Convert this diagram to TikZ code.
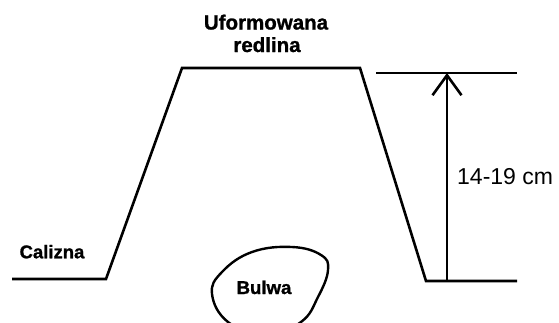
\documentclass[tikz,border=0pt]{standalone}
\usepackage{fontspec}
\setmainfont{Liberation Sans}[BoldFeatures={FakeBold=1.2}]
\usetikzlibrary{arrows.meta}
\begin{document}
\begin{tikzpicture}[x=1pt,y=-1pt,
  line/.style={line width=2.6pt,line join=miter},
  lbl/.style={inner sep=0pt, anchor=base},
  dimlbl/.style={inner sep=0pt, anchor=base west}]
\useasboundingbox (0,0) rectangle (559,322);
% profile
\coordinate (l0) at (12,279);
\coordinate (l1) at (106,279);
\coordinate (t0) at (182,68);
\coordinate (t1) at (360,68);
\coordinate (r0) at (426,281);
\coordinate (r1) at (517,281);
\draw[line] (l0) -- (l1) -- (t0) -- (t1) -- (r0) -- (r1);
% dimension
\coordinate (d0) at (376,73);
\coordinate (d1) at (517,73);
\draw[line] (d0) -- (d1);
\coordinate (ab) at (447,281);
\coordinate (at) at (447,73);
\draw[line width=2.6pt,-{Straight Barb[length=20pt,width=29pt,line width=2.6pt]}] (ab) -- (at);
\node[dimlbl, font=\fontsize{23}{26}\selectfont] (dim) at (457,184) {14-19 cm};
% labels
\node[lbl, font=\bfseries\fontsize{20.5}{22}\selectfont] (top1) at (266,29.5) {Uformowana};
\node[lbl, font=\bfseries\fontsize{20.5}{22}\selectfont] (top2) at (267,52) {redlina};
\node[lbl, font=\bfseries\fontsize{18.5}{20}\selectfont] (cal) at (52,258.3) {Calizna};
% blob
\begin{scope}
\clip (0,0) rectangle (559,322);
\draw[line width=2.4pt] plot[smooth cycle, tension=0.7] coordinates {(292,247) (321,255) (328,270) (318,297) (301,322) (265,336) (228,322) (212,294) (222,272) (252,252)};
\end{scope}
\node[lbl, font=\bfseries\fontsize{18.6}{20}\selectfont] (bulwa) at (264,294) {Bulwa};
\end{tikzpicture}
\end{document}
